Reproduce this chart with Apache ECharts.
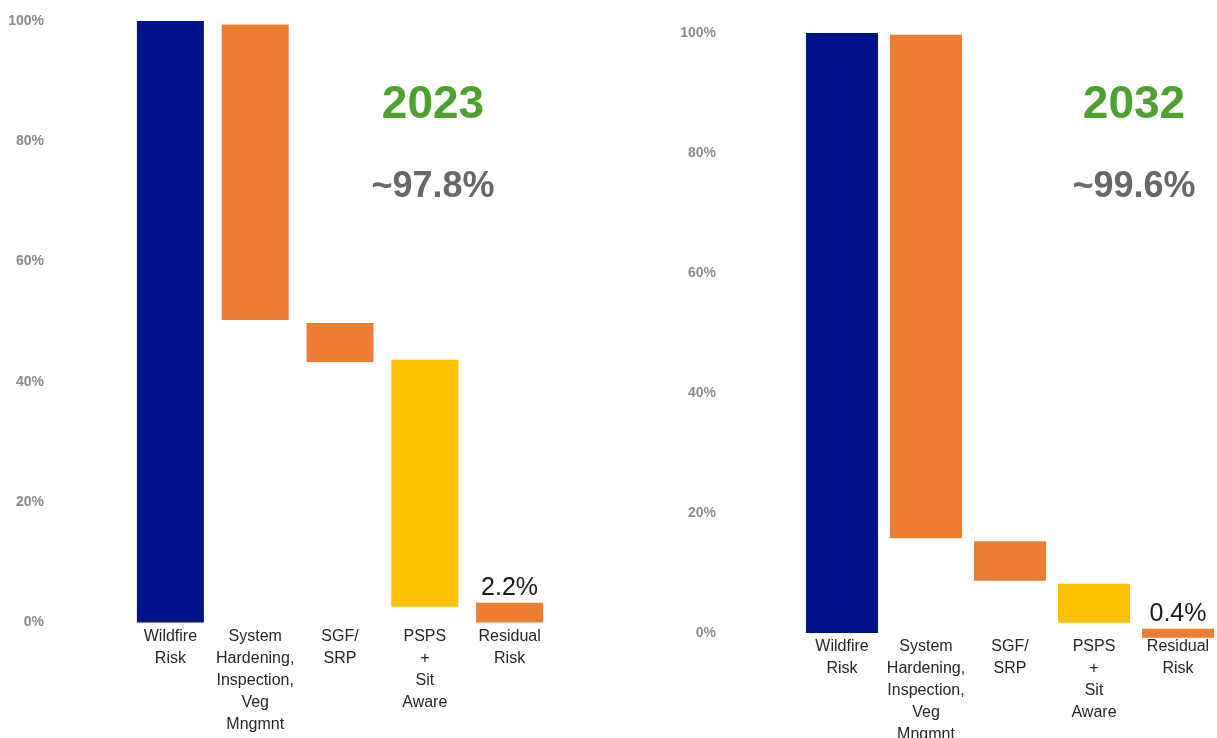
<!DOCTYPE html>
<html>
<head>
<meta charset="utf-8">
<script src="https://cdn.jsdelivr.net/npm/echarts@6/dist/echarts.min.js"></script>
<style>
html,body{margin:0;padding:0;background:#fff;}
#c{width:1217px;height:738px;}
</style>
</head>
<body>
<div id="c"></div>
<script>
const categories = ['Wildfire\nRisk', 'System\nHardening,\nInspection,\nVeg\nMngmnt', 'SGF/\nSRP', 'PSPS\n+\nSit\nAware', 'Residual\nRisk'];
const yTicks = [0, 20, 40, 60, 80, 100];
// 2023 waterfall (bottom and top of each floating bar, % of risk)
const low2023 = [0, 50.3, 43.3, 2.6, 0];
const high2023 = [100, 99.4, 49.8, 43.7, 3.3];
// 2032 waterfall
const low2032 = [0, 15.8, 8.7, 1.7, -0.8];
const high2032 = [100, 99.7, 15.3, 8.2, 0.7];
const years = ['2023', '2032'];
const reductions = ['~97.8%', '~99.6%'];
const residualLabels = ['2.2%', '0.4%'];
const barColors = ['#001489', '#ED7D31', '#ED7D31', '#FFC000', '#ED7D31'];

const chart = echarts.init(document.getElementById('c'));
const FONT = '"Liberation Sans", Arial, sans-serif';

function xAxis(idx) {
  return {
    type: 'category', gridIndex: idx, data: categories,
    axisLine: {show: false}, axisTick: {show: false},
    axisLabel: {
      interval: 0, margin: 3, color: '#262626', fontSize: 16, lineHeight: 22,
      fontFamily: FONT, verticalAlign: 'top'
    }
  };
}
function yAxis(idx) {
  return {
    type: 'value', gridIndex: idx, min: 0, max: 100, interval: 20,
    axisLine: {show: false}, axisTick: {show: false}, splitLine: {show: false},
    axisLabel: {
      margin: 84, color: '#8c8c8c', fontSize: 14, fontWeight: 'bold', fontFamily: FONT,
      formatter: v => yTicks.includes(v) ? v + '%' : ''
    }
  };
}
function seriesFor(idx, lo, hi, width) {
  return [
    {
      type: 'bar', xAxisIndex: idx, yAxisIndex: idx, stack: 's' + idx, stackStrategy: 'all',
      barWidth: width, silent: true, clip: false,
      itemStyle: {color: 'transparent'},
      data: lo
    },
    {
      type: 'bar', xAxisIndex: idx, yAxisIndex: idx, stack: 's' + idx, stackStrategy: 'all',
      barWidth: width, clip: false,
      data: hi.map((h, i) => ({
        value: +(h - lo[i]).toFixed(2),
        itemStyle: {color: barColors[i]},
        label: i === hi.length - 1 ? {
          show: true, position: 'top', distance: 2,
          formatter: residualLabels[idx], fontSize: 25, color: '#1a1a1a', fontFamily: FONT
        } : {show: false}
      }))
    }
  ];
}

chart.setOption({
  animation: false,
  backgroundColor: '#fff',
  grid: [
    {left: 128, width: 424, top: 21, height: 601.5, outerBoundsMode: 'none', containLabel: false},
    {left: 800, width: 420, top: 33, height: 600, outerBoundsMode: 'none', containLabel: false}
  ],
  title: [
    {text: years[0], left: 428, top: 77, textAlign: 'center',
     textStyle: {color: '#4CA22F', fontSize: 46, fontWeight: 'bold', fontFamily: FONT}},
    {text: reductions[0], left: 428, top: 164, textAlign: 'center',
     textStyle: {color: '#686868', fontSize: 36, fontWeight: 'bold', fontFamily: FONT}},
    {text: years[1], left: 1129, top: 77, textAlign: 'center',
     textStyle: {color: '#4CA22F', fontSize: 46, fontWeight: 'bold', fontFamily: FONT}},
    {text: reductions[1], left: 1129, top: 164, textAlign: 'center',
     textStyle: {color: '#686868', fontSize: 36, fontWeight: 'bold', fontFamily: FONT}}
  ],
  xAxis: [xAxis(0), xAxis(1)],
  yAxis: [yAxis(0), yAxis(1)],
  series: [...seriesFor(0, low2023, high2023, 67), ...seriesFor(1, low2032, high2032, 72)]
});
</script>
</body>
</html>
